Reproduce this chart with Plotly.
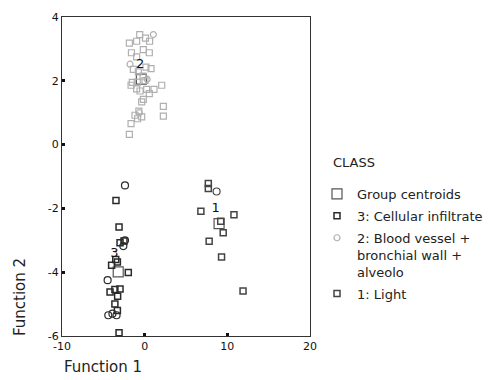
import plotly.graph_objects as go

# ---- data ----
centroid_x = [9.0, -0.4, -3.2]
centroid_y = [-2.48, 2.05, -3.99]
centroid_labels = ["1", "2", "3"]
label_x = [8.6, -0.55, -3.65]
label_y = [-2.0, 2.5, -3.42]

# group 3: Cellular infiltrate (bottom-left cluster)
g3_sq_x = [-3.47, -3.1, -2.98, -2.5, -3.3, -4.0, -1.98, -3.6, -2.98, -4.19, -3.27, -3.6, -3.3, -3.1, -3.5]
g3_sq_y = [-1.75, -2.58, -3.08, -3.02, -3.68, -3.78, -4.01, -4.54, -4.53, -4.62, -4.75, -5.0, -5.2, -5.9, -3.6]
g3_ci_x = [-2.38, -2.58, -2.38, -4.48, -4.4, -3.4, -3.9]
g3_ci_y = [-1.28, -3.18, -3.0, -4.25, -5.35, -5.35, -5.3]

# group 2: Blood vessel + bronchial wall + alveolo (top cluster)
g2_sq_x = [-0.6, 0.1, 0.6, -1.85, -0.97, -1.6, -0.97, -0.16, 0.56, -1.37, -0.77, 0.16, 0.77,
           -1.65, -0.89, 0.04, -0.97, -0.56, 0.24, 0.56, 1.13, 2.06, -0.16, -0.36, 2.26, 2.26,
           -1.17, -0.36, -1.65, -1.85, -0.85, -1.5, -0.2, -0.7]
g2_sq_y = [3.45, 3.34, 3.24, 3.18, 3.24, 2.88, 2.75, 2.98, 2.88, 2.36, 2.28, 2.43, 2.38,
           1.86, 1.96, 2.01, 1.75, 1.68, 1.73, 1.6, 1.73, 1.86, 1.42, 1.34, 1.2, 0.89,
           0.92, 0.87, 0.66, 0.32, 0.81, 1.95, 2.15, 1.05]
g2_ci_x = [1.05, -1.77, -0.65, 0.3]
g2_ci_y = [3.45, 2.52, 1.0, 2.05]

# group 1: Light (right cluster)
g1_sq_x = [7.7, 7.7, 6.8, 10.8, 9.2, 9.5, 7.8, 9.3, 11.9]
g1_sq_y = [-1.22, -1.38, -2.09, -2.2, -2.4, -2.76, -3.03, -3.52, -4.59]
g1_ci_x = [8.7]
g1_ci_y = [-1.47]

x_ticks = [-10, 0, 10, 20]
x_tick_text = ["-10", "0", "10", "20"]
y_ticks = [4, 2, 0, -2, -4, -6]
y_tick_text = ["4", "2", "0", "-2", "-4", "-6"]

FONT = "DejaVu Sans"
BLACK = "#2a2a2a"
GRAY = "#b0b0b0"
DARK = "#444444"

fig = go.Figure()

fig.add_trace(go.Scatter(x=centroid_x, y=centroid_y, mode="markers", name="Group centroids",
                         legendgroup="c",
                         marker=dict(symbol="square-open", size=10, color="#555555", line=dict(width=1.2))))
fig.add_trace(go.Scatter(x=g3_sq_x, y=g3_sq_y, mode="markers", name="3: Cellular infiltrate",
                         legendgroup="g3",
                         marker=dict(symbol="square-open", size=6, color=BLACK, line=dict(width=1.5))))
fig.add_trace(go.Scatter(x=g2_ci_x, y=g2_ci_y, mode="markers",
                         name="2: Blood vessel +<br>bronchial wall +<br>alveolo",
                         legendgroup="g2",
                         marker=dict(symbol="circle-open", size=6, color=GRAY, line=dict(width=1.2))))
fig.add_trace(go.Scatter(x=g1_sq_x, y=g1_sq_y, mode="markers", name="1: Light",
                         legendgroup="g1",
                         marker=dict(symbol="square-open", size=6, color=DARK, line=dict(width=1.5))))
# same-group points drawn with the other symbol
fig.add_trace(go.Scatter(x=g2_sq_x, y=g2_sq_y, mode="markers", showlegend=False, legendgroup="g2",
                         marker=dict(symbol="square-open", size=6, color=GRAY, line=dict(width=1.2))))
fig.add_trace(go.Scatter(x=g3_ci_x, y=g3_ci_y, mode="markers", showlegend=False, legendgroup="g3",
                         marker=dict(symbol="circle-open", size=7, color=BLACK, line=dict(width=1.2))))
fig.add_trace(go.Scatter(x=g1_ci_x, y=g1_ci_y, mode="markers", showlegend=False, legendgroup="g1",
                         marker=dict(symbol="circle-open", size=7, color=DARK, line=dict(width=1.2))))
fig.add_trace(go.Scatter(x=label_x, y=label_y, mode="text", text=centroid_labels, showlegend=False,
                         textfont=dict(family=FONT, size=13, color="#111111"), hoverinfo="skip"))

axis_common = dict(showgrid=False, zeroline=False, showline=True, linecolor="#333333", linewidth=1,
                   mirror=True, ticks="inside", ticklen=3, tickwidth=2.5, tickcolor="#111111",
                   tickfont=dict(family=FONT, size=11, color="#111111"))

# page has an 8px body margin: figure is sized/offset so the plot area lands at x 62-310, y 17-336
pw, ph = 248, 319
def px(xp):
    return (xp - 62) / pw
def py(yp):
    return 1 - (yp - 17) / ph

fig.update_layout(
    width=486, height=372,
    margin=dict(l=54, r=184, t=9, b=44, autoexpand=False),
    paper_bgcolor="white", plot_bgcolor="white",
    xaxis=dict(range=[-10, 20], tickvals=x_ticks, ticktext=x_tick_text, **axis_common),
    yaxis=dict(range=[-6, 4], tickvals=y_ticks, ticktext=y_tick_text, **axis_common),
    showlegend=True,
    legend=dict(x=px(317), y=py(179), xanchor="left", yanchor="top",
                font=dict(family=FONT, size=13, color="#222222"),
                itemwidth=30, traceorder="grouped", tracegroupgap=2, valign="top",
                bgcolor="rgba(0,0,0,0)"),
    annotations=[
        dict(text="CLASS", x=px(331), y=py(162), xref="paper", yref="paper", showarrow=False,
             xanchor="left", yanchor="middle", font=dict(family=FONT, size=13, color="#222222")),
        dict(text="Function 2", x=px(20), y=py(297), xref="paper", yref="paper", showarrow=False,
             textangle=-90, xanchor="center", yanchor="middle", font=dict(family=FONT, size=15, color="#222222")),
        dict(text="Function 1", x=px(62), y=py(367), xref="paper", yref="paper", showarrow=False,
             xanchor="left", yanchor="middle", font=dict(family=FONT, size=15, color="#222222")),
    ],
)

fig.write_html("out.html")
